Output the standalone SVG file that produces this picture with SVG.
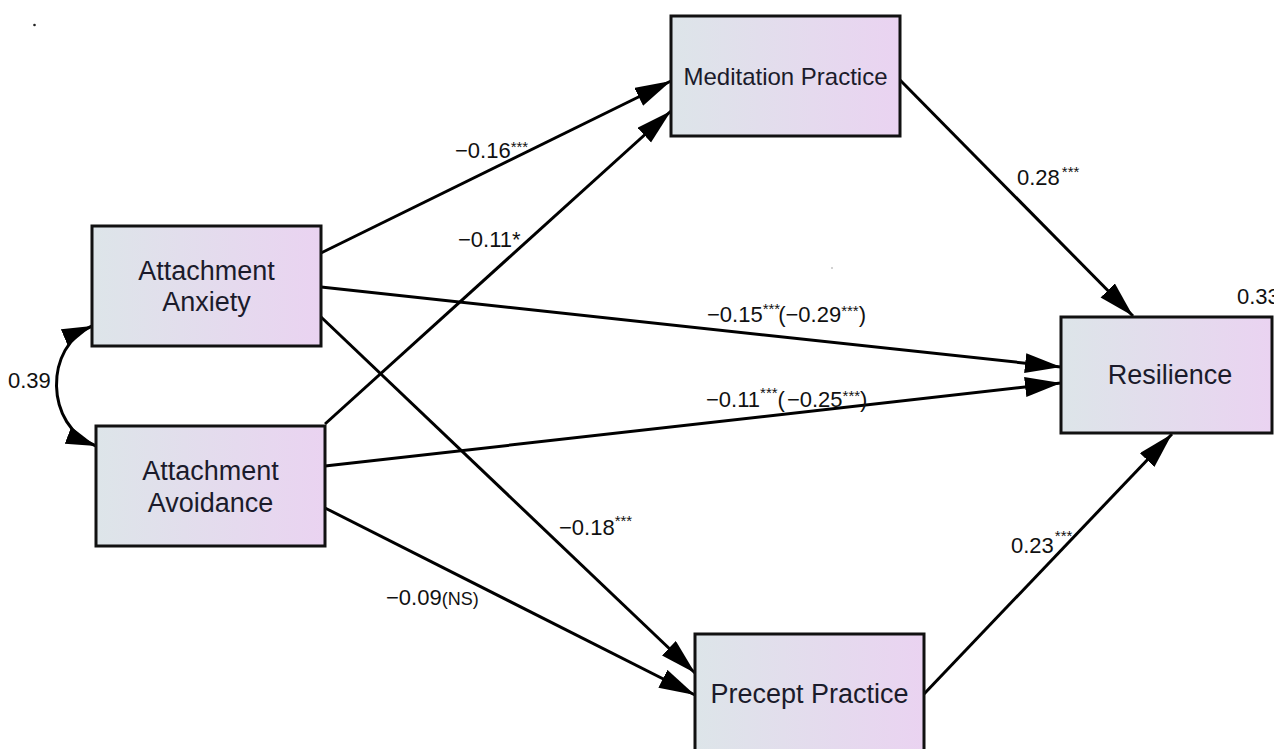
<svg xmlns="http://www.w3.org/2000/svg" width="1274" height="749" viewBox="0 0 1274 749">
<defs>
<linearGradient id="boxfill" x1="0" y1="0" x2="1" y2="0">
<stop offset="0" stop-color="#dde5e9"/>
<stop offset="1" stop-color="#ead3f1"/>
</linearGradient>
<marker id="arr" markerUnits="userSpaceOnUse" markerWidth="38" markerHeight="22" refX="36" refY="10" orient="auto">
<path d="M0,0 L36,10 L0,20 z" fill="#000"/>
</marker>
<marker id="arrs" markerUnits="userSpaceOnUse" markerWidth="32" markerHeight="20" refX="30" refY="9" orient="auto-start-reverse">
<path d="M0,0 L30,9 L0,18 z" fill="#000"/>
</marker>
<style>
.box{fill:url(#boxfill);stroke:#111;stroke-width:3}
.nt{font-family:"Liberation Sans",Arial,sans-serif;font-size:27px;fill:#1b1b2b;text-anchor:middle}
.lbl{font-family:"Liberation Sans",Arial,sans-serif;font-size:22px;fill:#111}
.sup{font-size:15px}
.ns{font-size:18px}
.edge{stroke:#000;stroke-width:3;fill:none;marker-end:url(#arr)}
</style>
</defs>
<rect width="1274" height="749" fill="#fff"/>
<circle cx="34.5" cy="25" r="1.3" fill="#222"/>
<circle cx="832" cy="268" r="0.8" fill="#999"/>

<g id="connectors">
<line class="edge" x1="321" y1="253" x2="671" y2="81"/>
<line class="edge" x1="325" y1="424" x2="671" y2="111"/>
<line class="edge" x1="900" y1="80" x2="1133" y2="316"/>
<line class="edge" x1="321" y1="287" x2="1061" y2="367"/>
<line class="edge" x1="325" y1="466" x2="1061" y2="383"/>
<line class="edge" x1="321" y1="317" x2="695" y2="673"/>
<line class="edge" x1="325" y1="508" x2="695" y2="695"/>
<line class="edge" x1="924" y1="694" x2="1172" y2="434"/>
<path d="M92,326 C44,346 44,426 96,446" stroke="#000" stroke-width="3" fill="none" marker-start="url(#arrs)" marker-end="url(#arrs)"/>
</g>

<g id="labels" class="lbl">
<text x="455" y="158">−0.16<tspan class="sup" dy="-6">***</tspan></text>
<text x="458" y="247">−0.11*</text>
<text x="1017" y="185">0.28<tspan class="sup" dy="-8" dx="2">***</tspan></text>
<text x="1237" y="304">0.33</text>
<text x="707" y="322">−0.15<tspan class="sup" dy="-8">***</tspan><tspan dy="8" dx="-2">(−0.29</tspan><tspan class="sup" dy="-6">***</tspan><tspan dy="6">)</tspan></text>
<text x="706" y="407">−0.11<tspan class="sup" dy="-9">***</tspan><tspan dy="9">(</tspan><tspan dx="2">−0.25</tspan><tspan class="sup" dy="-6">***</tspan><tspan dy="6">)</tspan></text>
<text x="559" y="535">−0.18<tspan class="sup" dy="-9">***</tspan></text>
<text x="386" y="605">−0.09<tspan class="ns">(NS)</tspan></text>
<text x="1011" y="553">0.23<tspan class="sup" dy="-12" dx="1">***</tspan></text>
<text x="8" y="388">0.39</text>
</g>

<g id="node-anxiety">
<rect class="box" x="92" y="226" width="229" height="120"/>
<text class="nt" x="206.5" y="280">Attachment</text>
<text class="nt" x="206.5" y="311">Anxiety</text>
</g>
<g id="node-avoidance">
<rect class="box" x="96" y="426" width="229" height="120"/>
<text class="nt" x="210.5" y="480">Attachment</text>
<text class="nt" x="210.5" y="512">Avoidance</text>
</g>
<g id="node-meditation">
<rect class="box" x="671" y="16" width="229" height="120"/>
<text class="nt" x="785.5" y="85" style="font-size:24px">Meditation Practice</text>
</g>
<g id="node-resilience">
<rect class="box" x="1061" y="317" width="211" height="116"/>
<text class="nt" x="1170" y="384">Resilience</text>
</g>
<g id="node-precept">
<rect class="box" x="695" y="634" width="229" height="125"/>
<text class="nt" x="809.5" y="703">Precept Practice</text>
</g>
</svg>
